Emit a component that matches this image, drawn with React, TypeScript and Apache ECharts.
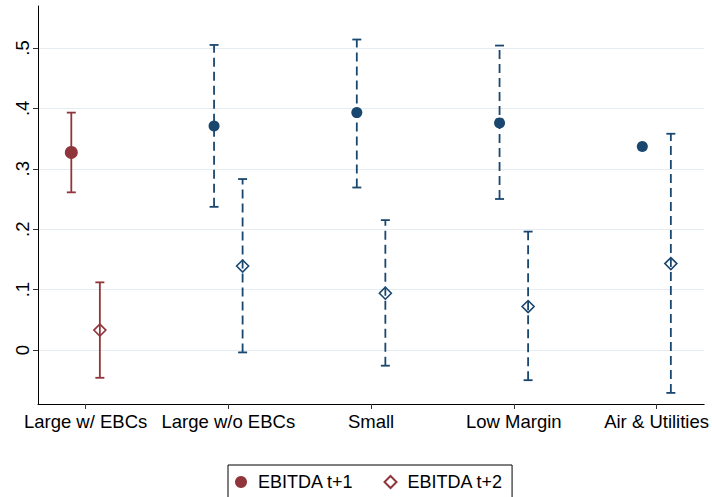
import React, { useEffect, useRef } from "react";
import * as echarts from "echarts";

const categories = ["Large w/ EBCs", "Large w/o EBCs", "Small", "Low Margin", "Air & Utilities"];
const t1Est = [0.327, 0.371, 0.393, 0.376, 0.337];
const t1Low: (number | null)[] = [0.261, 0.237, 0.269, 0.25, null];
const t1High: (number | null)[] = [0.393, 0.505, 0.514, 0.504, null];
const t2Est = [0.033, 0.139, 0.094, 0.072, 0.143];
const t2Low = [-0.046, -0.004, -0.026, -0.05, -0.071];
const t2High = [0.112, 0.283, 0.215, 0.196, 0.358];
const yTicks = [0, 0.1, 0.2, 0.3, 0.4, 0.5];
const legendNames = ["EBITDA t+1", "EBITDA t+2"];

const RED = "#90353b";
const NAVY = "#1a476f";
const FONT = "'Liberation Sans', Arial, sans-serif";

export default function App() {
  const ref = useRef<HTMLDivElement>(null);
  useEffect(() => {
    if (!ref.current) return;
    const chart = echarts.init(ref.current, undefined, { renderer: "svg" });
    const pos = categories.map((_, i) => i + 1);
    const colorOf = (i: number) => (i === 0 ? RED : NAVY);

    const bars: any[] = [];
    categories.forEach((_, i) => {
      if (t1Low[i] != null && t1High[i] != null) {
        bars.push([pos[i] - 0.1, t1Low[i], t1High[i], i]);
      }
      bars.push([pos[i] + 0.1, t2Low[i], t2High[i], i]);
    });

    const option: any = {
      animation: false,
      backgroundColor: "#ffffff",
      textStyle: { fontFamily: FONT },
      grid: { left: 38, top: 6, right: 7, bottom: 93, containLabel: false },
      legend: {
        data: [
          { name: legendNames[0], icon: "circle" },
          { name: legendNames[1], icon: "diamond" },
        ],
        left: 228,
        top: 465,
        orient: "horizontal",
        itemWidth: 12,
        itemHeight: 12,
        itemGap: 30,
        padding: [8, 9, 20, 7],
        borderColor: "#000",
        borderWidth: 1,
        borderRadius: 0,
        textStyle: { fontFamily: FONT, fontSize: 18, color: "#000", padding: [0, 0, 0, 6] },
      },
      xAxis: {
        type: "value",
        min: 2 / 3,
        max: 16 / 3,
        axisLine: { show: true, onZero: false, lineStyle: { color: "#000", width: 1 } },
        axisTick: { show: true, length: 5, customValues: pos, lineStyle: { color: "#333" } },
        axisLabel: {
          customValues: pos,
          formatter: (v: number) => categories[Math.round(v) - 1] ?? "",
          fontFamily: FONT,
          fontSize: 18.5,
          color: "#000",
          margin: 8,
        },
        splitLine: { show: false },
      },
      yAxis: {
        type: "value",
        min: -0.0894,
        max: 0.5695,
        axisLine: { show: true, onZero: false, lineStyle: { color: "#000", width: 1 } },
        axisTick: { show: true, length: 5, customValues: yTicks, lineStyle: { color: "#333" } },
        axisLabel: {
          customValues: yTicks,
          rotate: 90,
          formatter: (v: number) => (Math.abs(v) < 1e-9 ? "0" : v.toFixed(1).replace(/^0/, "")),
          fontFamily: FONT,
          fontSize: 18.5,
          color: "#000",
          margin: 6,
        },
        splitLine: { show: true, lineStyle: { color: "#e6edf2", width: 1.2 } },
      },
      series: [
        {
          type: "custom",
          name: "ci",
          z: 2,
          silent: true,
          data: bars,
          renderItem: (params: any, api: any) => {
            const x = api.value(0);
            const lo = api.value(1);
            const hi = api.value(2);
            const idx = api.value(3);
            const pLo = api.coord([x, lo]);
            const pHi = api.coord([x, hi]);
            const color = colorOf(idx);
            const dashed = idx !== 0;
            const cap = 4.5;
            const style: any = { stroke: color, lineWidth: 1.8, fill: "none" };
            const lineStyle: any = dashed ? { ...style, lineDash: [9, 5] } : style;
            return {
              type: "group",
              children: [
                { type: "line", shape: { x1: pLo[0], y1: pLo[1], x2: pHi[0], y2: pHi[1] }, style: lineStyle },
                { type: "line", shape: { x1: pHi[0] - cap, y1: pHi[1], x2: pHi[0] + cap, y2: pHi[1] }, style },
                { type: "line", shape: { x1: pLo[0] - cap, y1: pLo[1], x2: pLo[0] + cap, y2: pLo[1] }, style },
              ],
            };
          },
        },
        {
          type: "scatter",
          name: legendNames[0],
          z: 5,
          symbol: "circle",
          itemStyle: { color: RED, opacity: 1 },
          data: categories.map((_, i) => ({
            value: [pos[i] - 0.1, t1Est[i]],
            symbolSize: i === 0 ? 13 : 11,
            itemStyle: { color: colorOf(i), opacity: 1 },
          })),
        },
        {
          type: "scatter",
          name: legendNames[1],
          z: 5,
          symbol: "diamond",
          symbolSize: 12,
          itemStyle: { color: "rgba(255,255,255,0)", borderColor: RED, borderWidth: 1.6, opacity: 1 },
          data: categories.map((_, i) => ({
            value: [pos[i] + 0.1, t2Est[i]],
            itemStyle: { color: "rgba(255,255,255,0)", borderColor: colorOf(i), borderWidth: 1.6, opacity: 1 },
          })),
        },
      ],
    };
    chart.setOption(option);
    return () => chart.dispose();
  }, []);
  return (
    <div
      ref={ref}
      style={{ position: "absolute", left: 0, top: 0, width: 712, height: 497, background: "#fff" }}
    />
  );
}
